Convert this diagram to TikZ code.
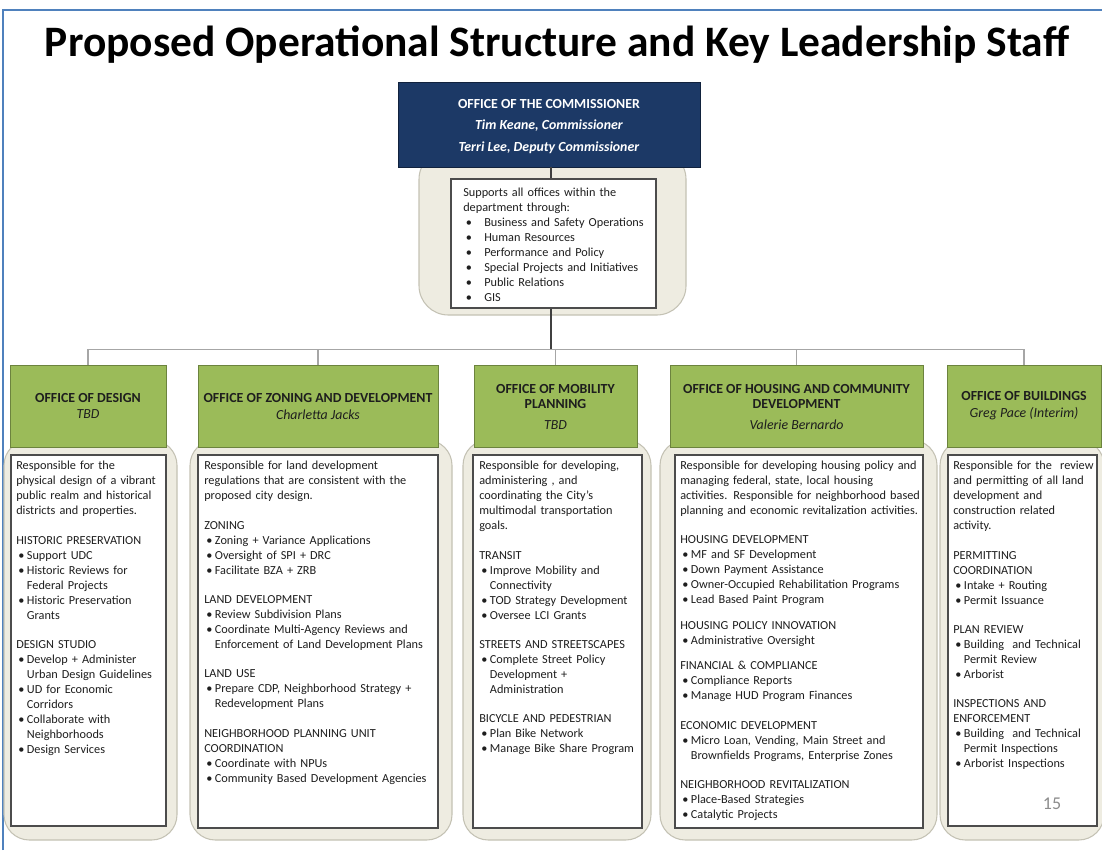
\documentclass[tikz,border=0pt]{standalone}
\usepackage{fontspec}
\setmainfont{Carlito}
\usetikzlibrary{fit,positioning}

\definecolor{navy}{RGB}{28,57,102}
\definecolor{leaf}{RGB}{155,187,89}
\definecolor{beige}{RGB}{238,236,225}
\definecolor{beigeline}{RGB}{196,194,180}
\definecolor{frameblue}{RGB}{79,129,189}
\definecolor{ink}{RGB}{30,30,30}

\newcommand\bodysize{\fontsize{9.2}{11.25}\selectfont}
\newcommand\headsize{\fontsize{10.4}{11.25}\selectfont}
\newcommand\bosssize{\fontsize{10.4}{16}\selectfont}
% bullet items with a hanging indent, and a caps heading after a blank line
\newcommand\itm[1]{\par\noindent\hangindent=8pt\hangafter=1\hbox to 8pt{\hskip1.5pt\textbullet\hss}#1}
\newcommand\supitm[1]{\par\noindent\hangindent=15.75pt\hangafter=1\hbox to 15.75pt{\hskip2pt\textbullet\hss}#1}
\newcommand\sect[2][10.8pt]{\par\vskip#1\noindent #2}

\begin{document}
\begin{tikzpicture}[x=0.75pt, y=-0.75pt,
  panel/.style={fill=beige, draw=beigeline, line width=0.8pt, rounded corners=19pt, inner sep=0pt},
  sheet/.style={fill=white, draw=black!70, line width=0.9pt, inner sep=0pt},
  head/.style={fill=leaf, draw=leaf!70!black, line width=0.5pt, inner sep=0pt},
  headtext/.style={align=center, inner sep=0pt, text=ink, font=\headsize\bfseries},
  boss/.style={fill=navy, draw=navy!60!black, line width=0.5pt, inner sep=0pt},
  bosstext/.style={align=center, inner sep=0pt, text=white, font=\bosssize\bfseries},
  body/.style={anchor=north west, inner sep=0pt, align=left, text=ink, font=\bodysize},
  trunk/.style={draw=black!75, line width=0.8pt},
  branch/.style={draw=black!35, line width=0.8pt}]
\useasboundingbox (0,0) rectangle (1102,850);

% frame and title
\draw[frameblue, line width=1.5pt] (3,850) -- (3,10) -- (1102,10);
\node[font=\fontsize{32.6}{38}\selectfont\bfseries] (title) at (557,45)
  {Proposed Operational Structure and Key Leadership Staff};

% commissioner
\node[panel, rounded corners=22pt, fit={(419,150) (686,315)}] (ptop) {};
\coordinate (split) at (551,350);
\node[sheet, fit={(451,179) (656,308)}] (support) {};
\node[boss, fit={(398,82) (700,167)}] (comm) {};
\node[bosstext] (lcomm) at ([yshift=-1.5pt]comm.center)
  {OFFICE OF THE COMMISSIONER\\ \textit{Tim Keane, Commissioner}\\ \textit{Terri Lee, Deputy Commissioner}};
\node[body, text width=155pt] (tsupport) at (463,188) {%
Supports all offices within the\newline department through:
\supitm{Business and Safety Operations}
\supitm{Human Resources}
\supitm{Performance and Policy}
\supitm{Special Projects and Initiatives}
\supitm{Public Relations}
\supitm{GIS}};

% offices
\node[panel, fit={(4,440) (177,840)}] (pdesign) {};
\node[panel, fit={(190,440) (452,840)}] (pzoning) {};
\node[panel, fit={(463,440) (651,840)}] (pmobility) {};
\node[panel, fit={(660,440) (937,840)}] (phousing) {};
\node[panel, fit={(940,440) (1104,840)}] (pbuild) {};

\node[head, fit={(10,365) (166,447)}] (hdesign) {};
\node[head, fit={(198,365) (438,447)}] (hzoning) {};
\node[head, fit={(474,365) (637,447)}] (hmobility) {};
\node[head, fit={(670,365) (923,447)}] (hhousing) {};
\node[head, fit={(947,365) (1101,447)}] (hbuild) {};

\node[headtext] (ldesign) at (hdesign.center)
  {OFFICE OF DESIGN\\[1pt]{\mdseries\itshape TBD}};
\node[headtext] (lzoning) at (hzoning.center)
  {OFFICE OF ZONING AND DEVELOPMENT\\[1.5pt]{\mdseries\itshape Charletta Jacks}};
\node[headtext] (lmobility) at ([yshift=-0.5pt]hmobility.center)
  {OFFICE OF MOBILITY\\PLANNING\\[4.5pt]{\mdseries\itshape TBD}};
\node[headtext] (lhousing) at ([yshift=-0.5pt]hhousing.center)
  {OFFICE OF HOUSING AND COMMUNITY\\DEVELOPMENT\\[4.5pt]{\mdseries\itshape Valerie Bernardo}};
\node[headtext] (lbuild) at (hbuild.center)
  {OFFICE OF BUILDINGS\\[1.5pt]{\mdseries\itshape Greg Pace (Interim)}};

% connectors
\draw[trunk] (split |- comm.south) -- (split |- support.north);
\draw[trunk] (split |- support.south) -- (split);
\draw[branch] (hdesign.north) -- ++(0,-15) -| (hbuild.north);
\foreach \h in {hzoning,hmobility,hhousing}
    \draw[branch] (\h.north) -- ++(0,-15);

\node[sheet, fit={(11,455) (166,826)}] (wdesign) {};
\node[sheet, fit={(198,455) (438,828)}] (wzoning) {};
\node[sheet, fit={(473,455) (642,828)}] (wmobility) {};
\node[sheet, fit={(675,455) (923,828)}] (whousing) {};
\node[sheet, fit={(948,455) (1097,826)}] (wbuild) {};

\node[body, text width=125pt] (tdesign) at (16,461) {%
Responsible for the\newline physical design of a vibrant\newline public realm and historical\newline districts and properties.
\sect{HISTORIC PRESERVATION}
\itm{Support UDC}
\itm{Historic Reviews for\newline Federal Projects}
\itm{Historic Preservation\newline Grants}
\sect{DESIGN STUDIO}
\itm{Develop + Administer\newline Urban Design Guidelines}
\itm{UD for Economic\newline Corridors}
\itm{Collaborate with\newline Neighborhoods}
\itm{Design Services}};

\node[body, text width=190pt] (tzoning) at (204,461) {%
Responsible for land development\newline regulations that are consistent with the\newline proposed city design.
\sect{ZONING}
\itm{Zoning + Variance Applications}
\itm{Oversight of SPI + DRC}
\itm{Facilitate BZA + ZRB}
\sect{LAND DEVELOPMENT}
\itm{Review Subdivision Plans}
\itm{Coordinate Multi-Agency Reviews and\newline Enforcement of Land Development Plans}
\sect{LAND USE}
\itm{Prepare CDP, Neighborhood Strategy +\newline Redevelopment Plans}
\sect{NEIGHBORHOOD PLANNING UNIT\newline COORDINATION}
\itm{Coordinate with NPUs}
\itm{Community Based Development Agencies}};

\node[body, text width=135pt] (tmobility) at (479,461) {%
Responsible for developing,\newline administering , and\newline coordinating the City’s\newline multimodal transportation\newline goals.
\sect{TRANSIT}
\itm{Improve Mobility and\newline Connectivity}
\itm{TOD Strategy Development}
\itm{Oversee LCI Grants}
\sect{STREETS AND STREETSCAPES}
\itm{Complete Street Policy\newline Development +\newline Administration}
\sect{BICYCLE AND PEDESTRIAN}
\itm{Plan Bike Network}
\itm{Manage Bike Share Program}};

\node[body, text width=200pt] (thousing) at (680,461) {%
Responsible for developing housing policy and\newline managing federal, state, local housing\newline activities. Responsible for neighborhood based\newline planning and economic revitalization activities.
\sect[10.5pt]{HOUSING DEVELOPMENT}
\itm{MF and SF Development}
\itm{Down Payment Assistance}
\itm{Owner-Occupied Rehabilitation Programs}
\itm{Lead Based Paint Program}
\sect[8.25pt]{HOUSING POLICY INNOVATION}
\itm{Administrative Oversight}
\sect[7.5pt]{FINANCIAL \& COMPLIANCE}
\itm{Compliance Reports}
\itm{Manage HUD Program Finances}
\sect[11pt]{ECONOMIC DEVELOPMENT}
\itm{Micro Loan, Vending, Main Street and\newline Brownfields Programs, Enterprise Zones}
\sect[10.5pt]{NEIGHBORHOOD REVITALIZATION}
\itm{Place-Based Strategies}
\itm{Catalytic Projects}};

\node[body, text width=120pt] (tbuild) at (953,461) {%
Responsible for the~ review\newline and permitting of all land\newline development and\newline construction related\newline activity.
\sect{PERMITTING\newline COORDINATION}
\itm{Intake + Routing}
\itm{Permit Issuance}
\sect{PLAN REVIEW}
\itm{Building~ and Technical\newline Permit Review}
\itm{Arborist}
\sect{INSPECTIONS AND\newline ENFORCEMENT}
\itm{Building~ and Technical\newline Permit Inspections}
\itm{Arborist Inspections}};

\node[text=black!45, font=\fontsize{13.5}{16}\selectfont] (pageno) at (1052,804) {15};

\end{tikzpicture}
\end{document}
